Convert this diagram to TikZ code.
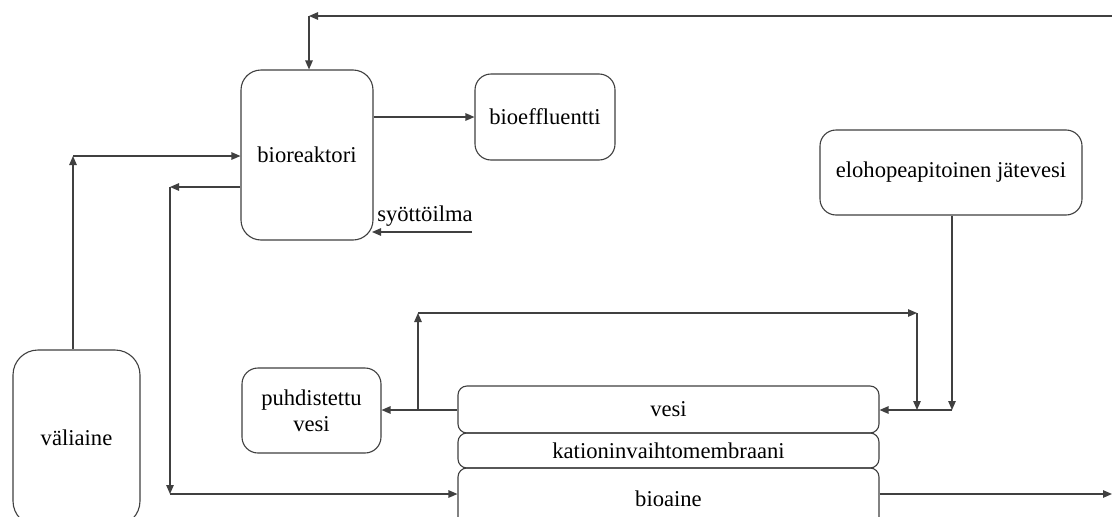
\documentclass[tikz,border=0pt]{standalone}
\usepackage{fontspec}
\setmainfont{Liberation Serif}
\usetikzlibrary{arrows.meta}
\begin{document}
\begin{tikzpicture}[x=1pt,y=-1pt,
  box/.style={draw=black!75,line width=1.1pt,rounded corners=#1,inner sep=0pt,
    font=\fontsize{22.6}{26}\selectfont,align=center},
  box/.default=16pt,
  conn/.style={draw=black!75,line width=1.2pt},
  arr/.style={conn,-{Triangle[length=9pt,width=7.5pt]}},
  lbl/.style={inner sep=0pt,font=\fontsize{22.6}{26}\selectfont}]
\useasboundingbox (0,0) rectangle (1112,517);
\clip (0,0) rectangle (1112,517);
\fill[white] (0,0) rectangle (1112,517);
% boxes
\node[box=20pt,minimum width=132pt,minimum height=170pt] (bio) at (307,155) {bioreaktori};
\node[box,minimum width=140pt,minimum height=86pt] (eff) at (545,117) {bioeffluentti};
\node[box,minimum width=262pt,minimum height=85pt] (hg) at (951,172.5) {elohopeapitoinen jätevesi};
\node[box=25pt,minimum width=127pt,minimum height=176pt] (val) at (76.5,438) {väliaine};
\node[box,minimum width=139pt,minimum height=85pt] (puh) at (311.5,410.5) {puhdistettu\\vesi};
\node[box=9pt,minimum width=421pt,minimum height=47pt] (vesi) at (668.5,409.5) {vesi};
\node[box=9pt,minimum width=421pt,minimum height=35pt] (kat) at (668.5,450.5) {kationinvaihtomembraani};
\node[box=9pt,minimum width=421pt,minimum height=62pt] (bioa) at (668.5,499) {bioaine};
\node[lbl] (syo) at (425,216.5) {syöttöilma};
% free coordinates
\coordinate (topR) at (1112,16);
\coordinate (topC) at (309,16);
\coordinate (outR) at (1112,494);
\coordinate (syoE) at (472,232);
\coordinate (valC) at (73,156);
\coordinate (retC) at (170,187);
\coordinate (retD) at (170,494);
\coordinate (loopA) at (418,410);
\coordinate (loopB) at (418,313);
\coordinate (loopC) at (917,313);
\coordinate (loopD) at (917,410);
\coordinate (hgD) at (952,410);
% connectors
\draw[arr] (topR) -- (topC);
\draw[arr] (topC) -- (topC |- bio.north);
\draw[arr] (bio.east |- 0,117) -- (eff.west |- 0,117);
\draw[arr] (syoE) -- (372,232);
\draw[arr] (val.north -| valC) -- (valC);
\draw[arr] (valC) -- (bio.west |- valC);
\draw[arr] (bio.west |- retC) -- (retC);
\draw[arr] (retC) -- (retD);
\draw[arr] (retD) -- (bioa.west |- retD);
\draw[arr] (vesi.west |- loopA) -- (puh.east |- loopA);
\draw[arr] (loopA) -- (loopB);
\draw[arr] (loopB) -- (loopC);
\draw[arr] (loopC) -- (loopD);
\draw[arr] (hg.south -| hgD) -- (hgD);
\draw[arr] (hgD) -- (vesi.east |- hgD);
\draw[arr] (bioa.east |- outR) -- (outR);
\end{tikzpicture}
\end{document}
